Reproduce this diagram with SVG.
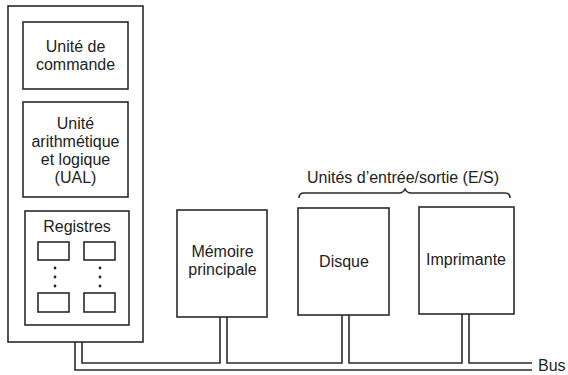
<svg xmlns="http://www.w3.org/2000/svg" width="568" height="375" viewBox="0 0 568 375">
<style>
.box{fill:#fff;stroke:#2a2a2a;stroke-width:1.6}
.ln{fill:none;stroke:#2a2a2a;stroke-width:1.6}
.t{font-family:"Liberation Sans",Arial,sans-serif;font-size:16px;fill:#222;text-anchor:middle}
</style>
<rect width="568" height="375" fill="#fff"/>
<g id="cpu">
<rect class="box" x="8" y="6" width="135" height="336"/>
</g>
<g id="commande">
<rect class="box" x="23" y="22" width="105" height="67"/>
<text class="t" x="75.5" y="52">Unité de</text>
<text class="t" x="75.5" y="70">commande</text>
</g>
<g id="ual">
<rect class="box" x="23" y="102" width="105" height="95"/>
<text class="t" x="75.5" y="129">Unité</text>
<text class="t" x="75.5" y="147">arithmétique</text>
<text class="t" x="75.5" y="165">et logique</text>
<text class="t" x="75.5" y="183">(UAL)</text>
</g>
<g id="registres">
<rect class="box" x="25" y="211" width="104" height="114"/>
<text class="t" x="77" y="232">Registres</text>
<rect class="box" x="38" y="242" width="31" height="18"/>
<rect class="box" x="84" y="242" width="31" height="18"/>
<rect class="box" x="38" y="293" width="31" height="19"/>
<rect class="box" x="84" y="293" width="31" height="19"/>
<g fill="#222">
<circle cx="55" cy="268" r="1.4"/><circle cx="55" cy="277" r="1.4"/><circle cx="55" cy="286" r="1.4"/>
<circle cx="100" cy="268" r="1.4"/><circle cx="100" cy="277" r="1.4"/><circle cx="100" cy="286" r="1.4"/>
</g>
</g>
<g id="memoire">
<rect class="box" x="177" y="210" width="90" height="107"/>
<text class="t" x="222.5" y="257">Mémoire</text>
<text class="t" x="222.5" y="275">principale</text>
</g>
<g id="disque">
<rect class="box" x="298" y="208" width="91" height="107"/>
<text class="t" x="344" y="267">Disque</text>
</g>
<g id="imprimante">
<rect class="box" x="419" y="207" width="95" height="107"/>
<text class="t" x="466" y="265">Imprimante</text>
</g>
<g id="es-label">
<text class="t" x="403" y="183">Unités d’entrée/sortie (E/S)</text>
<path class="ln" d="M299,198 Q299,193 304,193 L399,193 Q403,193 405,189 Q407,193 411,193 L505,193 Q510,193 510,198"/>
</g>
<g id="connectors">
<path class="ln" d="M75,342 L75,370 L532,370"/>
<path class="ln" d="M82,342 L82,363 L220,363 L220,317"/>
<path class="ln" d="M227,317 L227,363 L342,363 L342,315"/>
<path class="ln" d="M349,315 L349,363 L462,363 L462,314"/>
<path class="ln" d="M469,314 L469,363 L532,363"/>
</g>
<g id="bus">
<text class="t" x="538" y="371" style="text-anchor:start">Bus</text>
</g>
</svg>
